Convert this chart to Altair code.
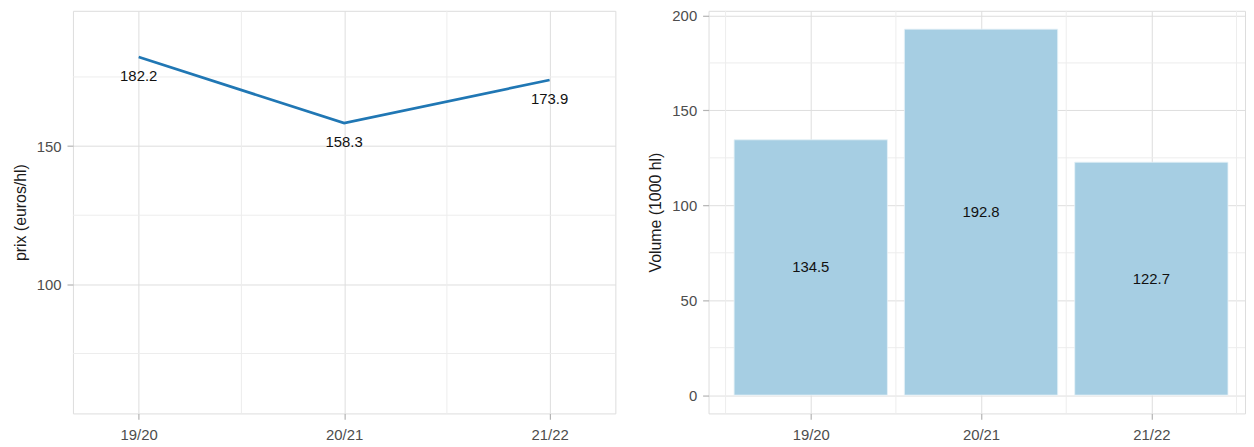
import altair as alt
import pandas as pd

# Data
seasons = ["19/20", "20/21", "21/22"]
season_idx = [1, 2, 3]
prix = [182.2, 158.3, 173.9]
volume = [134.5, 192.8, 122.7]

# Axis values
prix_ticks = [100, 150]
prix_minor = [75, 125, 175]
vol_ticks = [0, 50, 100, 150, 200]
vol_minor = [25, 75, 125, 175]
x_minor_left = [1.5, 2.5]
x_minor_right = [0.5, 1.5, 2.5, 3.5]

FONT = "Liberation Sans"
GRID = "#DEDEDE"
MINOR = "#EDEDED"
BORDER = "#B3B3B3"
LINE_COL = "#2077B4"
BAR_COL = "#A6CEE3"

df = pd.DataFrame({"idx": season_idx, "saison": seasons, "prix": prix, "volume": volume})
label_expr = "['" + "','".join(seasons) + "'][datum.value - 1]"

W1, W2, H = 547, 541, 406

axis_common = dict(
    labelFont=FONT, labelFontSize=15, labelColor="#4D4D4D",
    titleFont=FONT, titleFontSize=16, titleColor="#1A1A1A", titleFontWeight="normal",
    tickColor=BORDER, tickSize=6, tickWidth=1.2, domain=False,
    gridColor=GRID, gridWidth=1,
)

# ---- Left panel: price line ----
xl_scale = alt.Scale(domain=[0.68, 3.32], nice=False, zero=False)
yl_scale = alt.Scale(domain=[53.35, 198.9], nice=False, zero=False)
xl_axis = alt.Axis(values=season_idx, labelExpr=label_expr, title=None, labelPadding=8, **axis_common)
yl_axis = alt.Axis(values=prix_ticks, title="prix (euros/hl)", titlePadding=8, labelPadding=6, **axis_common)

line = alt.Chart(df).mark_line(color=LINE_COL, strokeWidth=2.7).encode(
    x=alt.X("idx:Q", scale=xl_scale, axis=xl_axis),
    y=alt.Y("prix:Q", scale=yl_scale, axis=yl_axis))
minor_y_l = alt.Chart(pd.DataFrame({"v": prix_minor})).mark_rule(color=MINOR, strokeWidth=1).encode(
    y=alt.Y("v:Q", scale=yl_scale, axis=yl_axis))
minor_x_l = alt.Chart(pd.DataFrame({"v": x_minor_left})).mark_rule(color=MINOR, strokeWidth=1).encode(
    x=alt.X("v:Q", scale=xl_scale, axis=xl_axis))
line_text = alt.Chart(df).mark_text(font=FONT, fontSize=15, color="#111111", dy=19, baseline="middle").encode(
    x=alt.X("idx:Q", scale=xl_scale, axis=xl_axis),
    y=alt.Y("prix:Q", scale=yl_scale, axis=yl_axis),
    text=alt.Text("prix:Q", format=".1f"))

left = alt.layer(minor_y_l, minor_x_l, line, line_text).properties(width=W1, height=H)

# ---- Right panel: volume bars ----
xr_scale = alt.Scale(domain=[0.4, 3.55], nice=False, zero=False)
yr_scale = alt.Scale(domain=[-9.64, 202.44], nice=False, zero=False)
xr_axis = alt.Axis(values=season_idx, labelExpr=label_expr, title=None, labelPadding=8, **axis_common)
yr_axis = alt.Axis(values=vol_ticks, title="Volume (1000 hl)", titlePadding=8, labelPadding=6, **axis_common)

bars_base = alt.Chart(df).transform_calculate(
    x0="datum.idx - 0.45", x1="datum.idx + 0.45", ymid="datum.volume / 2", base="0")

minor_y_r = alt.Chart(pd.DataFrame({"v": vol_minor})).mark_rule(color=MINOR, strokeWidth=1).encode(
    y=alt.Y("v:Q", scale=yr_scale, axis=yr_axis))
minor_x_r = alt.Chart(pd.DataFrame({"v": x_minor_right})).mark_rule(color=MINOR, strokeWidth=1).encode(
    x=alt.X("v:Q", scale=xr_scale, axis=xr_axis))

bars = bars_base.mark_rect(color=BAR_COL, stroke="#E6F1F7", strokeWidth=0.8).encode(
    x=alt.X("x0:Q", scale=xr_scale, axis=xr_axis),
    x2="x1:Q",
    y=alt.Y("volume:Q", scale=yr_scale, axis=yr_axis),
    y2="base:Q",
)
bar_text = bars_base.mark_text(font=FONT, fontSize=15, color="#111111", baseline="middle").encode(
    x=alt.X("idx:Q", scale=xr_scale, axis=xr_axis),
    y=alt.Y("ymid:Q", scale=yr_scale, axis=yr_axis),
    text=alt.Text("volume:Q", format=".1f"))

right = alt.layer(minor_y_r, minor_x_r, bars, bar_text).properties(width=W2, height=H)

chart = alt.hconcat(left, right, spacing=31).properties(
    padding={"left": 3.5, "top": -2, "right": 0, "bottom": 0}
).configure_view(
    stroke=BORDER, strokeWidth=1.6
).configure(background="white")

chart.save("out.html", embed_options={"renderer": "svg", "actions": False})
